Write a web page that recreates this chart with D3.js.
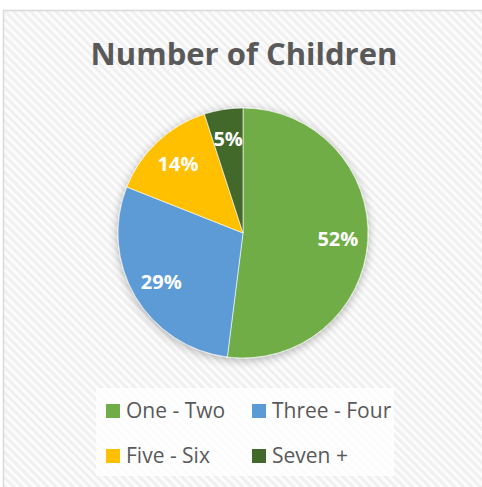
<!DOCTYPE html>
<html>
<head>
<meta charset="utf-8">
<script src="https://cdn.jsdelivr.net/npm/d3@7"></script>
<style>
  html, body { margin: 0; padding: 0; background: #ffffff; }
  svg { display: block; }
</style>
</head>
<body>
<svg id="chart" width="482" height="487"></svg>
<script>
// Share of families by number of children
const categories = ["One - Two", "Three - Four", "Five - Six", "Seven +"];
const shares = [52, 29, 14, 5];
const colors = ["#70AD47", "#5B9BD5", "#FFC000", "#43682B"];
const titleText = "Number of Children";

const svg = d3.select("#chart");
const W = 482, H = 487;
const defs = svg.append("defs");

// Diagonal hatch fill for the chart area
const pat = defs.append("pattern")
  .attr("id", "hatch")
  .attr("patternUnits", "userSpaceOnUse")
  .attr("width", 6).attr("height", 6)
  .attr("patternTransform", "rotate(-45)");
pat.append("rect").attr("width", 6).attr("height", 6).attr("fill", "#fcfcfc");
pat.append("rect").attr("width", 3).attr("height", 6).attr("fill", "#f0f0f0");

// Soft shadow under the pie
const shadow = defs.append("filter").attr("id", "soft")
  .attr("x", "-20%").attr("y", "-20%").attr("width", "140%").attr("height", "140%");
shadow.append("feGaussianBlur").attr("in", "SourceAlpha").attr("stdDeviation", 5).attr("result", "b");
shadow.append("feOffset").attr("in", "b").attr("dx", 0).attr("dy", 2).attr("result", "o");
shadow.append("feComponentTransfer").attr("in", "o").attr("result", "s")
  .append("feFuncA").attr("type", "linear").attr("slope", 0.3);
const merge = shadow.append("feMerge");
merge.append("feMergeNode").attr("in", "s");
merge.append("feMergeNode").attr("in", "SourceGraphic");

// Chart area frame
svg.append("rect")
  .attr("x", 3.5).attr("y", 10.5)
  .attr("width", W + 10).attr("height", H + 10)
  .attr("fill", "url(#hatch)")
  .attr("stroke", "#d9d9d9").attr("stroke-width", 1.5);

// Title
svg.append("text")
  .attr("x", 244).attr("y", 65)
  .attr("text-anchor", "middle")
  .attr("font-family", "'Open Sans', sans-serif")
  .attr("font-weight", 700)
  .attr("font-size", 31)
  .attr("fill", "#595959")
  .text(titleText);

// Pie
const cx = 243, cy = 233, r = 125;
const pie = d3.pie().sort(null).value(d => d)(shares);
const arc = d3.arc().innerRadius(0).outerRadius(r);
const labelArc = d3.arc().innerRadius(r * 0.76).outerRadius(r * 0.76);

const g = svg.append("g").attr("transform", `translate(${cx},${cy})`);
g.append("g").attr("filter", "url(#soft)")
  .selectAll("path").data(pie).join("path")
  .attr("d", arc)
  .attr("fill", (d, i) => colors[i])
  .attr("stroke", "#ffffff").attr("stroke-width", 0.6);

g.selectAll("text.pct").data(pie).join("text")
  .attr("class", "pct")
  .attr("transform", d => `translate(${labelArc.centroid(d)})`)
  .attr("text-anchor", "middle")
  .attr("dy", "0.36em")
  .attr("font-family", "'Open Sans', sans-serif")
  .attr("font-weight", 700)
  .attr("font-size", 20)
  .attr("fill", "#ffffff")
  .text(d => d.data + "%");

// Legend
const legend = svg.append("g");
legend.append("rect")
  .attr("x", 96).attr("y", 388).attr("width", 298).attr("height", 88)
  .attr("fill", "#ffffff").attr("opacity", 0.8);

const colX = [106, 252], rowY = [404, 449];
const items = legend.selectAll("g.item").data(categories).join("g")
  .attr("class", "item")
  .attr("transform", (d, i) => `translate(${colX[i % 2]},${rowY[Math.floor(i / 2)]})`);
items.append("rect").attr("width", 14).attr("height", 14)
  .attr("fill", (d, i) => colors[i]);
items.append("text")
  .attr("x", 20).attr("y", 14)
  .attr("font-family", "'Open Sans', sans-serif")
  .attr("font-size", 21)
  .attr("fill", "#595959")
  .text(d => d);
</script>
</body>
</html>
